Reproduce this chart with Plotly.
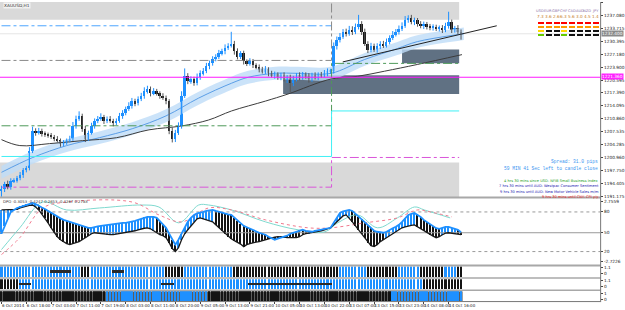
import plotly.graph_objects as go

FIG_W, FIG_H = 625, 310
PLOT_R = 604


def pxx(px):
    return px / FIG_W


def pxy(py):
    return 1 - py / FIG_H


# ---------------- data ----------------
time_labels = ["6 Oct 2014", "6 Oct 18:00", "7 Oct 03:00", "7 Oct 11:00", "7 Oct 19:00",
               "8 Oct 03:00", "8 Oct 11:00", "8 Oct 20:00", "9 Oct 05:00", "9 Oct 13:00",
               "9 Oct 21:00", "10 Oct 05:00", "10 Oct 13:00", "10 Oct 22:00", "13 Oct 07:00",
               "13 Oct 15:00", "13 Oct 23:00", "14 Oct 08:00", "14 Oct 16:00"]
time_label_bars = [0, 8, 16, 24, 32, 40, 48, 56, 64, 72, 80, 88, 96, 104, 112, 120, 128, 136, 144]

first_open = 1192.5
closes = [1193.0, 1194.2, 1193.5, 1195.0, 1195.2, 1195.7, 1196.5, 1197.8, 1198.2, 1202.7,
          1207.8, 1207.3, 1207.8, 1207.0, 1206.8, 1206.5, 1206.3, 1205.8, 1205.3, 1204.5,
          1204.8, 1205.3, 1205.8, 1209.0, 1210.8, 1211.5, 1208.3, 1205.8, 1207.3, 1209.0,
          1210.3, 1210.8, 1211.3, 1210.3, 1210.8, 1210.3, 1209.8, 1210.3, 1211.5, 1212.3,
          1213.3, 1214.1, 1215.3, 1214.8, 1215.8, 1216.6, 1217.8, 1218.3, 1217.3, 1217.8,
          1217.3, 1216.6, 1216.1, 1215.3, 1207.8, 1205.8, 1207.3, 1209.0, 1216.6, 1221.6,
          1220.4, 1220.9, 1219.8, 1221.4, 1222.4, 1222.9, 1224.1, 1224.9, 1225.9, 1226.6,
          1227.4, 1227.9, 1228.9, 1229.4, 1229.9, 1227.9, 1226.6, 1227.4, 1225.4, 1224.9,
          1225.4, 1224.4, 1223.9, 1223.4, 1222.9, 1223.4, 1222.4, 1221.9, 1222.1, 1221.4,
          1221.9, 1220.9, 1221.4, 1219.8, 1220.9, 1221.9, 1221.4, 1222.1, 1221.6, 1220.9,
          1221.9, 1221.4, 1222.1, 1221.9, 1222.4, 1222.9, 1222.9, 1229.2, 1230.9, 1231.7,
          1232.9, 1232.4, 1233.4, 1232.9, 1234.2, 1234.9, 1232.9, 1229.9, 1228.4, 1229.4,
          1228.4, 1229.2, 1229.9, 1229.4, 1230.4, 1231.4, 1232.2, 1232.9, 1233.7, 1234.4,
          1235.9, 1236.4, 1235.4, 1235.9, 1234.9, 1234.4, 1234.9, 1234.2, 1233.9, 1234.2,
          1233.7, 1233.9, 1233.4, 1234.4, 1235.4, 1233.4, 1233.9, 1232.9, 1232.4]
upper_wick = [0.8, 0.6, 0.9, 0.7, 0.5, 0.6, 0.8, 0.5, 0.6, 0.9,
              1.0, 0.6, 0.7, 0.5, 0.6, 0.5, 0.7, 0.4, 0.6, 0.5,
              0.6, 0.5, 0.7, 1.0, 0.8, 1.2, 0.6, 0.7, 0.5, 0.8,
              0.6, 0.7, 0.9, 0.5, 0.6, 0.7, 0.5, 0.6, 0.8, 0.7,
              0.6, 0.9, 0.8, 0.6, 0.7, 0.8, 1.0, 0.9, 0.7, 0.8,
              0.6, 0.5, 0.7, 0.6, 0.5, 0.8, 0.7, 0.9, 1.2, 2.0,
              0.8, 0.7, 0.6, 0.9, 0.7, 0.8, 0.9, 0.7, 0.8, 0.6,
              0.9, 0.7, 0.8, 0.6, 3.0, 0.7, 0.8, 0.6, 0.7, 0.5,
              0.8, 0.6, 0.5, 0.7, 0.6, 0.8, 0.5, 0.6, 0.7, 0.5,
              0.6, 0.7, 0.5, 0.6, 0.8, 0.5, 0.7, 0.6, 0.5, 0.8,
              0.6, 0.7, 0.5, 0.6, 0.8, 0.7, 0.6, 1.0, 0.8, 0.9,
              0.7, 0.8, 1.0, 0.9, 0.8, 2.3, 0.7, 0.8, 0.6, 0.7,
              0.5, 0.8, 0.6, 0.7, 0.8, 0.6, 0.9, 0.7, 0.8, 0.9,
              1.0, 0.7, 0.8, 0.6, 0.5, 0.7, 0.6, 0.5, 0.7, 0.6,
              0.5, 0.6, 0.7, 0.8, 2.6, 0.6, 0.5, 0.7, 0.6]
lower_wick = [1.5, 0.8, 0.6, 0.7, 0.5, 0.6, 0.5, 0.7, 0.6, 0.5,
              0.6, 0.8, 0.5, 0.7, 0.6, 0.5, 0.6, 0.7, 0.5, 0.8,
              0.7, 0.6, 0.5, 0.6, 0.7, 0.5, 0.8, 0.9, 0.6, 0.5,
              0.7, 0.6, 0.5, 0.8, 0.6, 0.5, 0.9, 0.6, 0.5, 0.7,
              0.6, 0.5, 0.7, 0.8, 0.6, 0.5, 0.7, 0.6, 0.8, 0.5,
              0.6, 0.7, 0.5, 0.8, 0.9, 1.0, 0.9, 0.6, 0.7, 0.5,
              0.8, 0.7, 0.6, 0.5, 0.7, 0.6, 0.5, 0.7, 0.6, 0.5,
              0.6, 0.5, 0.7, 0.6, 0.5, 0.8, 0.7, 0.6, 0.8, 0.7,
              0.6, 0.7, 0.5, 0.8, 0.6, 0.7, 0.8, 0.6, 0.9, 0.7,
              0.8, 0.6, 1.0, 2.2, 0.7, 0.6, 0.8, 0.7, 0.6, 0.9,
              0.7, 0.6, 0.8, 0.7, 0.6, 0.8, 0.7, 0.6, 0.8, 0.7,
              0.6, 0.7, 0.5, 0.8, 0.6, 0.7, 0.8, 0.6, 0.9, 0.7,
              0.6, 0.8, 0.7, 0.6, 0.5, 0.7, 0.6, 0.5, 0.7, 0.6,
              0.5, 0.7, 0.6, 0.8, 0.7, 0.6, 0.8, 0.7, 0.6, 0.7,
              0.6, 0.7, 0.8, 0.6, 0.7, 0.8, 0.7, 0.6, 1.5]

price_ticks = [1191.175, 1194.405, 1197.750, 1200.960, 1204.285, 1207.535, 1210.860, 1214.095,
               1217.390, 1220.595, 1223.900, 1227.180, 1230.395, 1233.715, 1237.080, 1240.355]
price_range = [1190.92, 1240.47]

# zones (x from, x to, price low, price high)
gray_zones = [(-0.5, 147.4, 1235.94, 1241.5), (-0.5, 147.4, 1189.0, 1199.73)]
dark_zones = [(90.7, 147.4, 1217.08, 1221.86), (129.0, 147.4, 1224.9, 1228.4)]

# levels (value before / after the day change)
level_switch_bar = 106.3
level_end_bar = 147.4
blue_level = [1234.43]
gray_level = [1225.63, 1242.0]
green_level = [1209.03, 1224.88]
cyan_level = [1201.24, 1212.80]
magenta_dd_level = [1193.44, 1200.98]
magenta_line = 1221.36

band_x = [0, 10.1, 21, 31.5, 42.1, 53, 63.5, 74.1, 79.5, 88.2, 95.5, 106.1, 117, 127.5, 133.9, 148.9]
band_mid = [1197.21, 1200.98, 1204.0, 1206.0, 1208.28, 1211.55, 1216.07, 1219.85, 1221.36, 1222.36,
            1222.36, 1222.36, 1225.88, 1228.65, 1230.4, 1232.42]
band_hi = [1198.8, 1202.6, 1205.6, 1207.6, 1209.9, 1213.2, 1217.7, 1221.5, 1223.0, 1224.0,
           1224.0, 1224.0, 1227.5, 1230.3, 1232.0, 1234.0]
band_lo = [1195.6, 1199.4, 1202.4, 1204.4, 1206.7, 1209.9, 1214.4, 1218.2, 1219.7, 1220.7,
           1220.7, 1220.7, 1224.3, 1227.0, 1228.8, 1230.8]

ma_x = [0, 5.9, 15.5, 26.1, 37, 47.5, 58.1, 66.7, 74.1, 85, 92.3, 106.1, 114.7, 123.4, 133.9, 148.3]
ma_y = [1205.51, 1204.0, 1204.5, 1205.26, 1206.0, 1208.0, 1209.0, 1210.5, 1212.8, 1215.3,
        1217.1, 1220.9, 1221.6, 1222.9, 1224.6, 1227.1]

trend_x = [109.9, 159.5]
trend_y = [1225.25, 1234.43]

# oscillator
osc_a = [47, 59, 71, 80, 83, 86, 87.5, 89, 90.5, 92,
         93.5, 92, 89, 86.8, 84.5, 81.5, 78.5, 75.5, 72.5, 70.3,
         68, 66.5, 65, 63.5, 62, 60.5, 59, 57.5, 56, 56,
         57.5, 58.3, 59, 59.8, 60.5, 60.5, 61.3, 62, 62.8, 63.5,
         63.5, 64.3, 65, 66.5, 68, 69.5, 71.8, 72.5, 72.5, 72.5,
         71, 66.5, 60.5, 56, 47, 38, 30.5, 38, 47, 57.5,
         65, 71, 75.5, 77.8, 78.5, 80, 81.5, 82.3, 83, 81.5,
         80, 78.5, 77, 76.3, 75.5, 71, 66.5, 62, 59, 56.8,
         54.5, 52.3, 50, 48.5, 47, 45.5, 42.5, 40.3, 38, 39.5,
         41, 42.5, 44, 47, 48.5, 50, 52.3, 53, 51.5, 50.8,
         50, 51.5, 52.3, 53, 54.5, 55.3, 56, 63.5, 71, 78.5,
         80.8, 81.5, 83, 81.5, 77, 72.5, 69.5, 65, 60.5, 56,
         51.5, 50, 49.3, 48.5, 50, 53, 55.3, 57.5, 60.5, 65,
         71, 75.5, 77, 78.5, 75.5, 72.5, 68, 65, 62, 59,
         55.3, 54.5, 56, 57.5, 57.5, 56, 54.5, 53, 49.3]
osc_b = [83, 83, 83, 83, 83, 83.8, 86, 87.5, 89, 89.8,
         90.5, 87.5, 83, 77, 71, 63.5, 56, 48.5, 42.5, 38,
         35, 32, 30.5, 32, 33.5, 35, 38, 41, 44, 47,
         48.5, 47.8, 47, 46.3, 45.5, 45.5, 45.5, 46.3, 47, 47.8,
         48.5, 49.3, 50, 51.5, 53, 54.5, 55.3, 56, 54.5, 51.5,
         48.5, 45.5, 44, 41, 33.5, 24.5, 20, 26, 38, 47,
         53, 59, 65, 69.5, 71, 69.5, 68, 66.5, 65, 60.5,
         56, 51.5, 47, 42.5, 39.5, 36.5, 34.3, 31.3, 27.5, 30.5,
         32, 33.5, 34.3, 35, 36.5, 38, 39.5, 41, 41.8, 42.5,
         42.5, 41.8, 41, 41, 41, 41, 42.5, 45.5, 47, 47.8,
         48.5, 50, 50.8, 51.5, 53, 54.5, 56, 60.5, 65, 69.5,
         74, 75.5, 71, 65, 59, 53, 47, 41, 33.5, 29,
         27.5, 30.5, 35, 38, 41, 44, 47, 50, 53, 56,
         57.5, 59, 59.8, 60.5, 57.5, 54.5, 51.5, 48.5, 45.5, 43.3,
         41, 42.5, 45.5, 47.8, 48.5, 47.8, 47, 46.3, 45.5]
stripe_runs = [("b", 12), ("k", 17), ("b", 21), ("k", 7), ("b", 12), ("k", 30),
               ("b", 14), ("k", 11), ("b", 10), ("k", 8), ("b", 5), ("k", 2)]
cyan_x = [0, 5.9, 13.3, 21, 31.5, 45.3, 50.7, 57.1, 63.5, 66.7, 74.1, 85, 95.5, 104.2,
          108.3, 114.7, 121.1, 127.5, 133, 136.2, 144.5]
cyan_v = [23, 56, 95, 83, 86, 90.5, 87.5, 63.5, 90.5, 90.5, 83, 65, 53, 50,
          63.5, 75.5, 56, 71, 87.5, 83, 71]
pink_x = [0, 5.9, 13.3, 21, 42.1, 50.7, 58.1, 66.7, 74.1, 85, 98.7, 106.1, 117, 127.5, 133.9, 138.1, 145.1]
pink_v = [15.5, 41, 86, 95, 95, 75.5, 65, 86, 83, 68, 56, 56, 63.5, 71, 83, 80, 72.5]
osc_levels = [80, 48.5, 20]
osc_ticks = [96.5, 80, 48.5, 20, 5]
osc_ticktext = ["2.7559", "80", "50", "20", "-2.7226"]

# signal strips
pane2_runs = [("b", 26), ("k", 3), ("b", 24), ("k", 6), ("b", 16), ("k", 34),
              ("b", 9), ("k", 10), ("b", 7), ("k", 8), ("b", 4), ("k", 2)]
pane3_runs = [("k", 6), ("b", 130), ("k", 13)]
pane4_runs = [("k", 34), ("b", 33), ("k", 59), ("b", 23)]
pane2_marks = [(16, 22), (36, 39)]
pane3_marks = [(6, 9), (52, 55), (80, 106)]

# currency strength table
currencies = ["USD", "EUR", "GBP", "CHF", "CAD", "AUD", "NZD", "JPY"]
strength = ["7.3", "3.6", "2.6", "6.3", "5.6", "3.0", "4.5", "1.4"]
table_rows = ["RRRRRRRR", "OOOOOOOO", "YKKYKKKK", "GKKGKKKK"]

news = [("4 hrs 30 mins since USD: NFIB Small Business Index", "#1e9e1e"),
        ("7 hrs 30 mins until AUD: Westpac Consumer Sentiment", "#1a1ab0"),
        ("9 hrs 30 mins until AUD: New Motor Vehicle Sales m/m", "#1a1ab0"),
        ("9 hrs 30 mins until CNY: CPI y/y", "#e82020")]

# ---------------- derived ----------------
n = len(closes)
bars = list(range(n))
opens = [first_open] + closes[:-1]
highs = [max(o, c) + w for o, c, w in zip(opens, closes, upper_wick)]
lows = [min(o, c) - w for o, c, w in zip(opens, closes, lower_wick)]


def expand(runs):
    out = []
    for s, k in runs:
        out += [s] * k
    return out


BLUE = "#1e90ff"
BLACK = "#141414"
col_map = {"b": BLUE, "k": BLACK}

fig = go.Figure()

# band
fig.add_trace(go.Scatter(x=band_x, y=band_lo, mode="lines", line=dict(width=0, shape="spline"),
                         hoverinfo="skip"))
fig.add_trace(go.Scatter(x=band_x, y=band_hi, mode="lines", line=dict(width=0, shape="spline"),
                         fill="tonexty", fillcolor="rgba(190,220,248,0.8)", hoverinfo="skip"))
fig.add_trace(go.Scatter(x=band_x, y=band_mid, mode="lines",
                         line=dict(width=1, color="#5b9ee6", shape="spline")))
# long MA
fig.add_trace(go.Scatter(x=ma_x, y=ma_y, mode="lines", line=dict(width=1, color="#3c3c3c", shape="spline")))

# level lines
fig.add_trace(go.Scatter(x=[0, level_switch_bar], y=[blue_level[0]] * 2, mode="lines",
                         line=dict(width=1, color="#4da6ff", dash="dashdot")))
fig.add_trace(go.Scatter(x=[0, level_switch_bar, level_switch_bar], y=[gray_level[0], gray_level[0], gray_level[1]],
                         mode="lines", line=dict(width=1, color="#8a8a8a", dash="dashdot")))
for lv, colr, dsh in [(green_level, "#4f9a5a", "dashdot"), (cyan_level, "#3ff0f5", "solid"),
                      (magenta_dd_level, "#d955d9", "dashdot")]:
    fig.add_trace(go.Scatter(x=[0, level_switch_bar, level_end_bar], y=[lv[0], lv[1], lv[1]],
                             mode="lines", line=dict(width=1, color=colr, dash=dsh, shape="hv")))
# trend line
fig.add_trace(go.Scatter(x=trend_x, y=trend_y, mode="lines", line=dict(width=1, color="#222222")))

# candles: wicks
for up in (True, False):
    wx, wy = [], []
    for i in bars:
        if (closes[i] >= opens[i]) == up:
            wx += [i, i, None]
            wy += [lows[i], highs[i], None]
    fig.add_trace(go.Scatter(x=wx, y=wy, mode="lines",
                             line=dict(width=1, color=BLUE if up else "#555555"), hoverinfo="skip"))
body_base = [min(o, c) for o, c in zip(opens, closes)]
body_h = [max(abs(c - o), 0.15) for o, c in zip(opens, closes)]
body_col = [BLUE if c >= o else BLACK for o, c in zip(opens, closes)]
fig.add_trace(go.Bar(x=bars, y=body_h, base=body_base, width=0.62, marker=dict(color=body_col, line=dict(width=0))))

# magenta horizontal line
fig.add_trace(go.Scatter(x=[-1, 200], y=[magenta_line] * 2, mode="lines",
                         line=dict(width=1.2, color="#ff1aff")))

# ---------- oscillator ----------
stripe_state = expand(stripe_runs)
fig.add_trace(go.Bar(x=bars, y=[abs(a - b) for a, b in zip(osc_a, osc_b)],
                     base=[min(a, b) for a, b in zip(osc_a, osc_b)], width=0.42,
                     marker=dict(color=[col_map[s] for s in stripe_state], line=dict(width=0)),
                     yaxis="y2"))
for lv in osc_levels:
    fig.add_trace(go.Scatter(x=[-1, 200], y=[lv, lv], mode="lines", yaxis="y2",
                             line=dict(width=1, color="#9a9a9a", dash="solid" if lv == 48.5 else "dot")))
fig.add_trace(go.Scatter(x=cyan_x, y=cyan_v, mode="lines", yaxis="y2",
                         line=dict(width=1, color="#7fd9cf", shape="spline")))
fig.add_trace(go.Scatter(x=pink_x, y=pink_v, mode="lines", yaxis="y2",
                         line=dict(width=1, color="#f07a8e", dash="dot", shape="spline")))
fig.add_trace(go.Scatter(x=bars, y=osc_b, mode="lines", yaxis="y2", line=dict(width=1.3, color="#1a1a1a")))
fig.add_trace(go.Scatter(x=bars, y=osc_a, mode="lines", yaxis="y2", line=dict(width=1.8, color=BLUE)))

# ---------- signal strips ----------
for runs, marks, yax, w in [(pane2_runs, pane2_marks, "y3", 0.66), (pane3_runs, pane3_marks, "y4", 0.66),
                            (pane4_runs, [], "y5", 0.6)]:
    st = expand(runs)
    fig.add_trace(go.Bar(x=bars, y=[1] * n, base=[0] * n, width=w, yaxis=yax,
                         marker=dict(color=[col_map[s] for s in st], line=dict(width=0))))
    mx = []
    for a, b in marks:
        mx += list(range(a, b + 1))
    if mx:
        fig.add_trace(go.Bar(x=mx, y=[0.22] * len(mx), base=[0.4] * len(mx), width=1.0, yaxis=yax,
                             marker=dict(color="#2a2a2a", line=dict(width=0))))

# ---------- currency table ----------
tcol = {"R": "#ff0000", "O": "#ff9900", "Y": "#ffd700", "G": "#66cc00", "K": "#111111"}
for r, row in enumerate(table_rows):
    fig.add_trace(go.Bar(x=list(range(8)), y=[0.5] * 8, base=[r - 0.25] * 8, width=0.78, xaxis="x2", yaxis="y6",
                         marker=dict(color=[tcol[c] for c in row], line=dict(width=0))))

# ---------------- layout ----------------
XD = [0, pxx(PLOT_R)]
tf = dict(size=4.3, color="#222222", family="DejaVu Sans")
common_y = dict(side="right", anchor="x", showgrid=False, zeroline=False, ticks="outside", ticklen=2,
                tickcolor="#444444", tickfont=tf, showline=False, fixedrange=True)

fig.update_layout(
    width=FIG_W, height=FIG_H, margin=dict(l=0, r=0, t=0, b=0),
    paper_bgcolor="white", plot_bgcolor="rgba(0,0,0,0)", showlegend=False, barmode="overlay", bargap=0,
    xaxis=dict(domain=XD, range=[-0.48, 192.8], anchor="y5", showgrid=False, zeroline=False,
               tickvals=time_label_bars, ticktext=time_labels, ticks="outside", ticklen=2,
               tickcolor="#444444", tickfont=dict(size=4.0, color="#222222", family="DejaVu Sans"),
               ticklabelposition="outside right", tickangle=0),
    yaxis=dict(domain=[pxy(197), 1], range=price_range, tickvals=price_ticks,
               ticktext=[f"{v:.3f}" for v in price_ticks], **common_y),
    yaxis2=dict(domain=[pxy(265), pxy(199)], range=[0.5, 99.5], tickvals=osc_ticks, ticktext=osc_ticktext,
                **common_y),
    yaxis3=dict(domain=[pxy(278), pxy(267)], range=[0, 1], tickvals=[0.92, 0.35], ticktext=["1.1", "0"], **common_y),
    yaxis4=dict(domain=[pxy(290), pxy(280)], range=[0, 1], tickvals=[0.92, 0.3], ticktext=["1.1", "0"], **common_y),
    yaxis5=dict(domain=[pxy(302), pxy(292)], range=[0, 1], tickvals=[0.8, 0.2], ticktext=["1", "0"], **common_y),
    xaxis2=dict(domain=[pxx(540), pxx(603)], range=[-0.5, 7.5], anchor="y6", visible=False),
    yaxis6=dict(domain=[pxy(36), pxy(6.25)], range=[3.5, -3.5], anchor="x2", visible=False),
)

shapes = []
for x0, x1, y0, y1 in gray_zones:
    shapes.append(dict(type="rect", xref="x", yref="y", x0=x0, x1=x1, y0=y0, y1=y1,
                       fillcolor="#d9d9d9", line=dict(width=0), layer="below"))
for x0, x1, y0, y1 in dark_zones:
    shapes.append(dict(type="rect", xref="x", yref="y", x0=x0, x1=x1, y0=y0, y1=y1,
                       fillcolor="#607183", line=dict(width=0), layer="below"))
# pane 4 dark background behind strips
shapes.append(dict(type="rect", xref="x", yref="y5", x0=-0.5, x1=n - 0.5, y0=0, y1=1,
                   fillcolor="#5c5c5c", line=dict(width=0), layer="below"))
# current price line
shapes.append(dict(type="line", xref="paper", yref="y", x0=0, x1=pxx(PLOT_R), y0=closes[-1], y1=closes[-1],
                   line=dict(width=1, color="#e6e6e6"), layer="below"))
# pane separators and frame
for py, w, c in [(197.5, 2, "#a8a8a8"), (266, 2, "#a8a8a8"), (278.8, 1.5, "#a8a8a8"),
                 (291, 1.5, "#a8a8a8"), (302.5, 1, "#777777")]:
    shapes.append(dict(type="line", xref="paper", yref="paper", x0=0, x1=pxx(PLOT_R + 0.5), y0=pxy(py), y1=pxy(py),
                       line=dict(width=w, color=c)))
shapes.append(dict(type="line", xref="paper", yref="paper", x0=pxx(PLOT_R + 0.5), x1=pxx(PLOT_R + 0.5),
                   y0=pxy(303), y1=1, line=dict(width=1, color="#777777")))
fig.update_layout(shapes=shapes)

ann = []


def add_text(px, py, text, size, color, anchor="left", family="DejaVu Sans", bg=None):
    d = dict(x=pxx(px), y=pxy(py), xref="paper", yref="paper", text=text, showarrow=False,
             xanchor=anchor, yanchor="middle", font=dict(size=size, color=color, family=family), borderpad=0)
    if bg:
        d["bgcolor"] = bg
    ann.append(d)


add_text(3, 4, "XAUUSD,H1", 4.3, "#333333", bg="#f2f2f2")
add_text(2, 201.5, "DPO -0.3053 -0.4247 0.2653 -0.4267 0.2783", 3.8, "#333333")
add_text(603, 161, "Spread: 31.0 pips", 4.6, "#3c96f0", anchor="right", family="Liberation Mono")
add_text(603, 168.5, "59 MIN 41 Sec left to candle close", 4.6, "#3c96f0", anchor="right", family="Liberation Mono")
for k, (t, c) in enumerate(news):
    add_text(604, 180.5 + 5.5 * k, t, 3.6, c, anchor="right")
add_text(605, 32, f"{closes[-1]:.3f}", 4.3, "white", bg="#8a8a8a")
add_text(605, 75.5, f"{magenta_line:.3f}", 4.3, "white", bg="#ff22ff")
# table header and strength values, placed on the table's own axes
for k in range(8):
    ann.append(dict(x=k, y=-2.75, xref="x2", yref="y6", text=currencies[k], showarrow=False,
                    font=dict(size=3.6, color="#8a70a8", family="DejaVu Sans"), borderpad=0))
    ann.append(dict(x=k, y=-1.6, xref="x2", yref="y6", text=strength[k], showarrow=False,
                    font=dict(size=4.2, color="#c47a2c", family="DejaVu Sans"), borderpad=0))
fig.update_layout(annotations=ann)

fig.write_html("out.html")
